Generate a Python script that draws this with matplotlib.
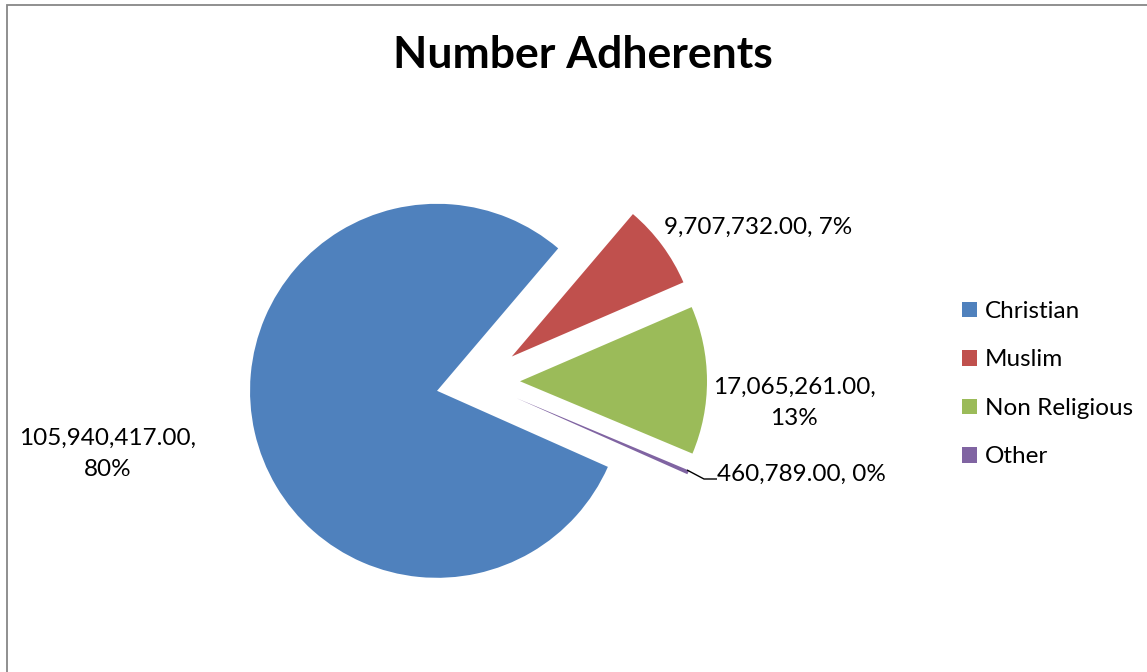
import matplotlib
matplotlib.use("Agg")
import matplotlib.pyplot as plt
from matplotlib.patches import Rectangle

plt.rcParams['font.family'] = ['Lato', 'DejaVu Sans']

# Data
categories = ["Christian", "Muslim", "Non Religious", "Other"]
adherents = [105940417.00, 9707732.00, 17065261.00, 460789.00]
colors = ["#4F81BD", "#C0504D", "#9BBB59", "#8064A2"]

W, H = 1147, 672
fig = plt.figure(figsize=(W / 100, H / 100), dpi=100)
fig.patch.set_facecolor("white")

# Axes in pixel units (y pointing up) so layout can be set directly
ax = fig.add_axes([0, 0, 1, 1])

def py(y_top):
    """Convert a top-down pixel row to the axes' y-up units."""
    return H - y_top

center = (478, py(381.5))
radius = 187
explode_px = 42

wedges, _ = ax.pie(
    adherents,
    colors=colors,
    startangle=336,
    counterclock=False,
    radius=radius,
    center=center,
    explode=[explode_px] * len(adherents),
    wedgeprops=dict(linewidth=0),
    frame=True,
)
ax.set_xlim(0, W)
ax.set_ylim(0, H)
ax.set_aspect("equal")
ax.axis("off")

total = sum(adherents)

def label_text(v, multiline):
    sep = ",\n" if multiline else ", "
    return f"{v:,.2f}{sep}{v / total * 100:.0f}%"

fs = 17.5
label_specs = [
    (0, 108, 454, True),
    (1, 758, 227.5, False),
    (2, 794, 403, True),
    (3, 801, 474.5, False),
]
for idx, x, y, multi in label_specs:
    ax.text(x, py(y), label_text(adherents[idx], multi), ha="center", va="center",
            fontsize=fs, color="black", linespacing=1.6)

# Leader line for the small slice
ax.plot([687, 704, 717], [py(470), py(479), py(479)], color="black", lw=1.0,
        solid_capstyle="butt")

# Title
fig.text(583 / W, 1 - 55 / H, "Number Adherents", ha="center", va="center",
         fontsize=32, fontweight="bold", color="black")

# Legend
leg = ax.legend(
    wedges, categories,
    loc="upper left",
    bbox_to_anchor=(962 / W, 1 - 301 / H),
    bbox_transform=fig.transFigure,
    frameon=False,
    fontsize=fs,
    handlelength=0.62,
    handleheight=0.62,
    handletextpad=0.33,
    labelspacing=1.13,
    borderaxespad=0,
    borderpad=0,
)

# Chart-area border
fig.add_artist(Rectangle((6.5 / W, -0.1), 1.2, (1 - 4.5 / H) + 0.1,
                         transform=fig.transFigure, fill=False,
                         edgecolor="#878787", linewidth=1.3))

fig.savefig("out.png", dpi=100, facecolor="white")
